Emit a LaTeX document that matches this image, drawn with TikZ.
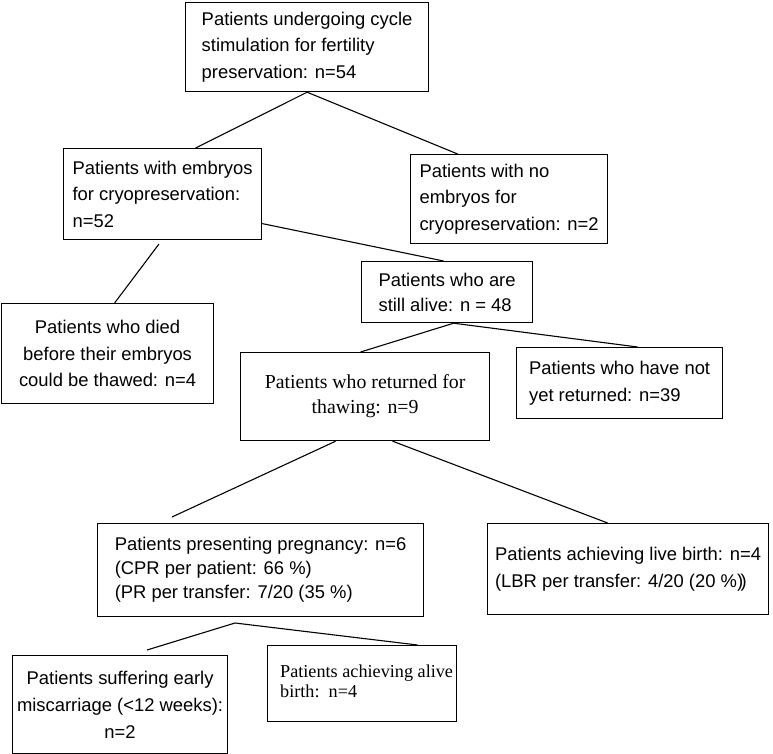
\documentclass[tikz,border=0pt]{standalone}
\usepackage{fontspec}
\setmainfont{Liberation Sans}
\newfontfamily\tms{Liberation Serif}
\begin{document}
\begin{tikzpicture}[x=1pt,y=-1pt,
  box/.style={draw, line width=1.2pt, rectangle, anchor=north west, inner sep=0pt,
    font=\fontsize{18.4}{26.5}\selectfont, align=left},
  link/.style={line width=1.1pt}]
\useasboundingbox (0,0) rectangle (773,754);
\node[box, minimum width=243, minimum height=89] (b1) at (185,2)
  {Patients undergoing cycle\\stimulation for fertility\\preservation: n=54};
\node[box, minimum width=198, minimum height=91] (b2) at (63,148)
  {Patients with embryos\\for cryopreservation:\\n=52};
\node[box, minimum width=197, minimum height=89] (b3) at (410,154)
  {Patients with no\\embryos for\\cryopreservation: n=2};
\node[box, align=center, minimum width=212, minimum height=100] (died) at (1,303)
  {Patients who died\\before their embryos\\could be thawed: n=4};
\node[box, minimum width=171, minimum height=61, font=\fontsize{18.4}{25}\selectfont] (alive) at (361,261)
  {Patients who are\\still alive: n = 48};
\node[box, align=center, minimum width=249, minimum height=88, font=\tms\fontsize{19.8}{25}\selectfont] (ret) at (240,352)
  {Patients who returned for\\thawing: n=9};
\node[box, minimum width=206, minimum height=71, font=\fontsize{18.4}{27}\selectfont] (ny) at (516,347)
  {Patients who have not\\yet returned: n=39};
\node[box, minimum width=326, minimum height=93, font=\fontsize{18.4}{24}\selectfont] (preg) at (97,523)
  {\raisebox{-4pt}{\begin{tabular}{@{}l@{}}Patients presenting pregnancy: n=6\\(CPR per patient: 66 \%)\\(PR per transfer: 7/20 (35 \%)\end{tabular}}};
\node[box, minimum width=281, minimum height=91, font=\fontsize{18.4}{27}\selectfont] (lb) at (487,523)
  {Patients achieving live birth: n=4\\(LBR per transfer: 4/20 (20 \%)\kern-2.5pt)};
\node[box, align=center, minimum width=215, minimum height=98, font=\fontsize{18.4}{27}\selectfont] (mis) at (12,655)
  {Patients suffering early\\miscarriage (<12 weeks):\\n=2};
\node[box, minimum width=189, minimum height=76, font=\tms\fontsize{18.2}{20}\selectfont] (ab) at (267,645)
  {\begin{tabular}{@{\hspace{9pt}}l@{}}Patients achieving alive\\birth:\ \ n=4\end{tabular}};
\coordinate (c1) at (159,244);
\coordinate (c2) at (172,517);
\coordinate (c3) at (235,623);
\coordinate (c4) at (147,650);
\draw[link] (b1.south) -- ([xshift=33pt]b2.north);
\draw[link] (b1.south) -- ([xshift=-51.5pt]b3.north);
\draw[link] ([yshift=-29.5pt]b2.east) -- ([xshift=-3.5pt]alive.north);
\draw[link] (c1) -- ([xshift=7pt]died.north);
\draw[link] ([xshift=6.5pt]alive.south) -- ([xshift=-4.5pt]ret.north);
\draw[link] ([xshift=6.5pt]alive.south) -- ([xshift=18pt]ny.north);
\draw[link] ([xshift=-29.5pt]ret.south) -- (c2);
\draw[link] ([xshift=27.5pt]ret.south) -- ([xshift=-20.5pt]lb.north);
\draw[link] (c4) -- (c3) -- ([xshift=55.5pt]ab.north);
\end{tikzpicture}
\end{document}
